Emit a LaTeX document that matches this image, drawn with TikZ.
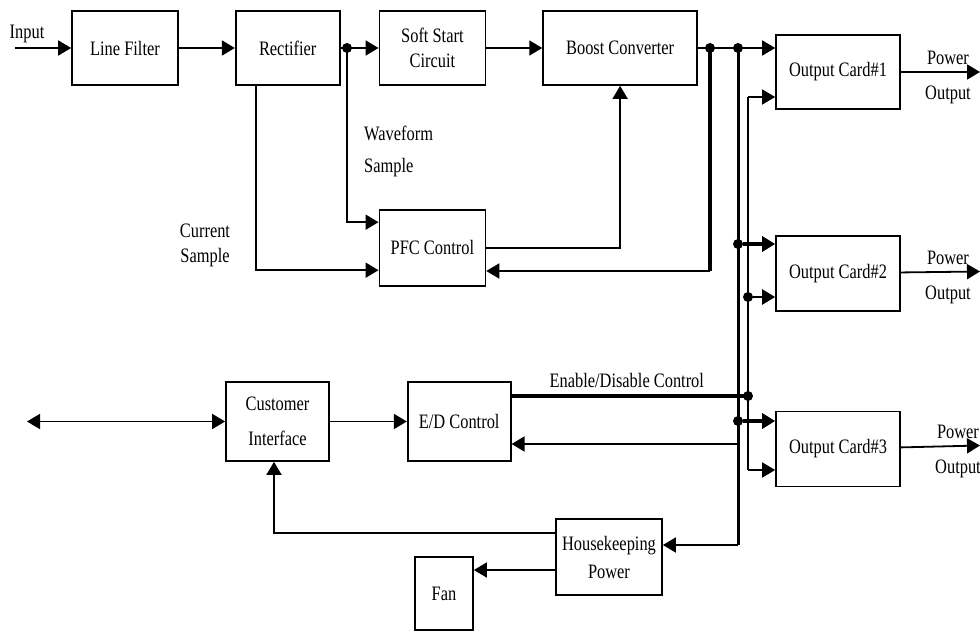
\documentclass[tikz,border=0pt]{standalone}
\usepackage{fontspec}
\setmainfont{Liberation Serif}[FakeStretch=0.8]
\usepackage{tikz}
\usetikzlibrary{positioning,arrows.meta}

\begin{document}
\begin{tikzpicture}[x=1pt, y=-1pt,
      font=\fontsize{20.5}{25}\selectfont,
      blk/.style={draw, line width=1.7pt, align=center, inner sep=1pt,
                  minimum width=106pt, minimum height=74pt},
      sig/.style={-{Triangle[length=13pt, width=15pt]}, line width=1.8pt},
      sigboth/.style={{Triangle[length=13pt, width=15pt]}-{Triangle[length=13pt, width=15pt]}, line width=1.8pt},
      bus/.style={line width=4pt},
      jn/.style={circle, fill, inner sep=0pt, minimum size=10pt},
      lbl/.style={align=center, inner sep=0pt},
      node distance=56pt]
    \useasboundingbox (0,0) rectangle (980,631);
    \node[blk] (lf) at (125,48) {Line Filter};
    \node[blk, minimum width=104pt, right=of lf] (rect) {Rectifier};
    \node[blk, right=38pt of rect] (ss) {Soft Start\\Circuit};
    \node[blk, minimum width=154pt, right=of ss] (boost) {Boost Converter};
    \node[blk, minimum height=76pt, below=123pt of ss] (pfc) {PFC Control};
    \node[blk, minimum width=124pt] (oc1) at (838,72) {Output Card\#1};
    \node[blk, minimum width=124pt, minimum height=75pt, below=125pt of oc1] (oc2) {Output Card\#2};
    \node[blk, minimum width=124pt, minimum height=75pt, below=99pt of oc2] (oc3) {Output Card\#3};
    \node[blk, minimum width=103pt, minimum height=79pt] (ci) at (277.5,421.5) {Customer\\[10pt]Interface};
    \node[blk, minimum width=103pt, minimum height=79pt, right=77pt of ci] (ed) {E/D Control};
    \node[blk, minimum height=76pt] (hk) at (609,557) {Housekeeping\\[3pt]Power};
    \node[blk, minimum width=58pt, minimum height=73pt] (fan) at (444,593.5) {Fan};

    \node[lbl] (inlbl) at (27,34) {Input};
    \node[lbl, align=left, anchor=west] (wave) at (364,151) {Waveform\\[7pt]Sample};
    \node[lbl] (cur) at (205,245) {Current\\Sample};
    \node[lbl] (pw1) at (948,77) {Power\\[10pt]Output};
    \node[lbl] (pw2) at (948,277) {Power\\[10pt]Output};
    \node[lbl] (pw3) at (958,451) {Power\\[10pt]Output};

    \coordinate (in) at (15,48);
    \draw[sig] (in) -- (in -| lf.west);
    \draw[sig] (lf) -- (rect);
    \draw[sig] (rect) -- (ss);
    \draw[sig] (ss) -- (boost);
    \node[jn] (j1) at (347,48) {};
    \draw[sig] (j1.center) |- ([yshift=25.5pt]pfc.west);
    \draw[sig] ([xshift=-32pt]rect.south) |- ([yshift=-22.5pt]pfc.west);
    \draw[sig] (pfc.east) -| (boost.south);

    \draw[sig] (boost.east) -- (boost.east -| oc1.west);
    \node[jn] (j2) at (710,48) {};
    \node[jn] (j3) at (738,48) {};
    \coordinate (fb) at (710,271);
    \draw[bus] (j2.center) -- (fb);
    \draw[sig] (fb) -- (fb -| pfc.east);
    \coordinate (hkin) at (738,545);
    \draw[line width=3pt] (j3.center) -- (hkin);
    \draw[sig] (hkin) -- (hkin -| hk.east);
    \node[jn] (j4) at (738,244) {};
    \node[jn] (j5) at (738,421) {};
    \draw[sig, line width=3.5pt] (j4) -- (j4 -| oc2.west);
    \draw[sig, line width=3.5pt] (j5) -- (j5 -| oc3.west);
    \coordinate (edin) at (738,444);
    \draw[sig] (edin) -- (edin -| ed.east);

    \coordinate (t1) at (748,97);
    \coordinate (t3) at (748,470);
    \draw[line width=1.8pt] (t1) -- (t3);
    \draw[sig] (t1) -- (t1 -| oc1.west);
    \draw[sig] (t3) -- (t3 -| oc3.west);
    \node[jn] (j6) at (748,297) {};
    \node[jn] (j7) at (748,396) {};
    \draw[sig, line width=2.5pt] (j6) -- (j6 -| oc2.west);
    \draw[bus] (j7 -| ed.east) -- node[lbl, above=6pt, xshift=-3pt] (edlbl) {Enable/Disable Control} (j7.center);

    \coordinate (cust) at (27,421.5);
    \draw[sigboth] (cust) -- (ci.west);
    \draw[sig] (ci) -- (ed);
    \draw[sig] ([yshift=24pt]hk.west) -| ([xshift=-3.5pt]ci.south);
    \draw[sig] ([yshift=-13pt]hk.west) -- ([yshift=-13pt]hk.west -| fan.east);

    \coordinate (po1) at (980,72);
    \coordinate (po2) at (980,271.5);
    \coordinate (po3) at (980,445.5);
    \draw[sig] (oc1) -- (po1);
    \draw[sig] (oc2) -- (po2);
    \draw[sig] (oc3) -- (po3);
  \end{tikzpicture}
\end{document}
